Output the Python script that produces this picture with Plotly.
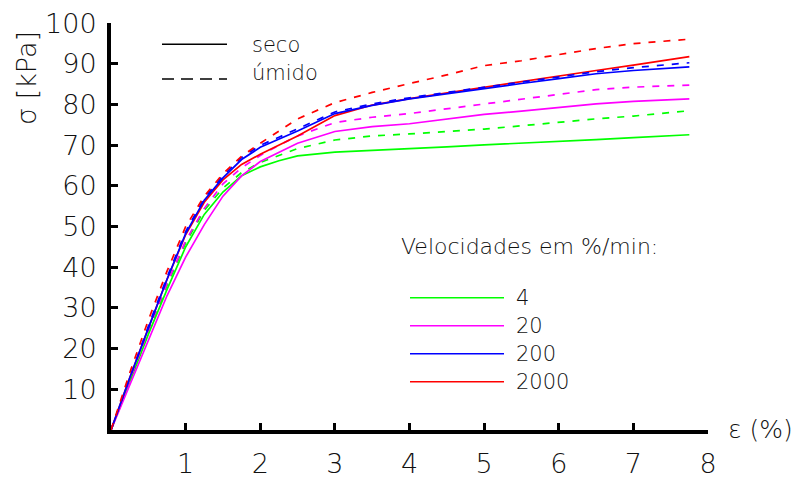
import plotly.graph_objects as go

# strain (%) sampling points shared by all curves
strain = [0, 0.25, 0.5, 0.75, 1.0, 1.25, 1.5, 1.75, 2.0, 2.25, 2.5,
          3.0, 3.5, 4.0, 4.5, 5.0, 5.5, 6.0, 6.5, 7.0, 7.5, 7.75]

# stress (kPa) for each loading rate, dry ("seco") and wet ("úmido") samples
seco_4 = [0, 12, 23.5, 34.5, 45, 53, 58.5, 62.5, 64.7, 66.2, 67.4,
          68.3, 68.7, 69.2, 69.6, 70.1, 70.5, 70.9, 71.4, 71.9, 72.4, 72.6]
umido_4 = [0, 12.3, 24, 35.5, 46, 54, 59.5, 63.3, 65.8, 67.5, 69.2,
           71.3, 72.3, 72.8, 73.4, 74.0, 74.8, 75.7, 76.5, 77.2, 78.0, 78.5]
seco_20 = [0, 11, 22, 33, 42.5, 50.5, 57.5, 62.5, 66, 68.3, 70.5,
           73.4, 74.6, 75.3, 76.5, 77.6, 78.4, 79.3, 80.2, 80.8, 81.3, 81.4]
umido_20 = [0, 12.5, 24.5, 36, 46.5, 54.5, 60.5, 64.5, 67.5, 70, 72.3,
            75.6, 76.9, 77.8, 79.0, 80.2, 81.4, 82.6, 83.7, 84.3, 84.7, 84.8]
seco_200 = [0, 12.8, 25, 37, 48.3, 56.5, 62, 66.5, 69.5, 71.5, 73.5,
            77.8, 79.8, 81.4, 82.7, 84.0, 85.2, 86.4, 87.6, 88.4, 89.0, 89.3]
umido_200 = [0, 13, 25.5, 37.5, 48.8, 57, 62.5, 67, 70, 72, 74,
             78.2, 80.2, 81.7, 83.0, 84.3, 85.6, 86.9, 88.1, 89.1, 89.9, 90.3]
seco_2000 = [0, 12.8, 25, 37, 48, 56, 61.5, 65.3, 67.8, 70, 72.3,
             77.3, 79.9, 81.5, 82.9, 84.3, 85.7, 87.1, 88.4, 89.7, 91.0, 91.8]
umido_2000 = [0, 14, 27, 39, 50, 57.5, 63, 67.3, 70.5, 73.5, 76.5,
              80.5, 83.0, 85.2, 87.3, 89.6, 90.8, 92.3, 93.8, 95.0, 95.8, 96.1]

rates = ["4", "20", "200", "2000"]
rate_colors = ["#00ff00", "#ff00ff", "#0000ff", "#ff0000"]
x_ticks = [1, 2, 3, 4, 5, 6, 7, 8]
y_ticks = [10, 20, 30, 40, 50, 60, 70, 80, 90, 100]

curves = [
    (seco_4, "4", "solid"), (umido_4, "4", "dash"),
    (seco_20, "20", "solid"), (umido_20, "20", "dash"),
    (seco_2000, "2000", "solid"), (seco_200, "200", "solid"),
    (umido_200, "200", "dash"), (umido_2000, "2000", "dash"),
]

W, H = 795, 477
FONT = "DejaVu Sans"
TXT = "#111111"

fig = go.Figure()
for values, rate, style in curves:
    color = rate_colors[rates.index(rate)]
    fig.add_trace(go.Scatter(
        x=strain, y=values, mode="lines",
        line=dict(color=color, width=1.7,
                  dash="solid" if style == "solid" else "7px,8px"),
        showlegend=False, hoverinfo="skip",
    ))

axis_common = dict(
    showline=True, linecolor="black", linewidth=4,
    ticks="inside", ticklen=7, tickwidth=3, tickcolor="black",
    showgrid=False, zeroline=False, automargin=False,
    tickfont=dict(family=FONT, size=27, color=TXT, weight=200),
)

fig.update_layout(
    template="none",
    width=W, height=H,
    margin=dict(l=0, r=0, t=0, b=0, pad=0),
    paper_bgcolor="white", plot_bgcolor="white",
    xaxis=dict(range=[0, 8], domain=[111 / W, 708 / W],
               tickvals=x_ticks, ticklabelstandoff=7, **axis_common),
    yaxis=dict(range=[0, 100], domain=[1 - 430 / H, 1 - 23.3 / H],
               tickvals=y_ticks, ticklabelstandoff=5, **axis_common),
)

def px(x):
    return x / W

def py(y):
    return 1 - y / H

annotations = []
shapes = []

# axis titles
annotations.append(dict(text="σ [kPa]", x=px(27), y=py(78), xref="paper", yref="paper",
                        textangle=-90, showarrow=False, xanchor="center", yanchor="middle",
                        font=dict(family=FONT, size=27, color=TXT, weight=200)))
annotations.append(dict(text="ε (%)", x=px(726), y=py(429), xref="paper", yref="paper",
                        showarrow=False, xanchor="left", yanchor="middle",
                        font=dict(family=FONT, size=25, color=TXT, weight=200)))

# line-style key
for label, dash, ly, ty in [("seco", "solid", 44.3, 45), ("úmido", "12px,7px", 79, 73)]:
    shapes.append(dict(type="line", xref="paper", yref="paper",
                       x0=px(162), x1=px(227), y0=py(ly), y1=py(ly),
                       line=dict(color="black", width=1.5, dash=dash)))
    annotations.append(dict(text=label, x=px(250), y=py(ty), xref="paper", yref="paper",
                            showarrow=False, xanchor="left", yanchor="middle",
                            font=dict(family=FONT, size=21, color=TXT, weight=200)))

# loading-rate key
annotations.append(dict(text="Velocidades em %/min:", x=px(399), y=py(246.7),
                        xref="paper", yref="paper", showarrow=False,
                        xanchor="left", yanchor="middle",
                        font=dict(family=FONT, size=22, color=TXT, weight=200)))
for i, (rate, color) in enumerate(zip(rates, rate_colors)):
    ly = 297.7 + i * 28
    shapes.append(dict(type="line", xref="paper", yref="paper",
                       x0=px(410), x1=px(504), y0=py(ly), y1=py(ly),
                       line=dict(color=color, width=1.5)))
    annotations.append(dict(text=rate, x=px(514), y=py(ly), xref="paper", yref="paper",
                            showarrow=False, xanchor="left", yanchor="middle",
                            font=dict(family=FONT, size=21, color=TXT, weight=200)))

fig.update_layout(annotations=annotations, shapes=shapes)
fig.write_html("out.html")
